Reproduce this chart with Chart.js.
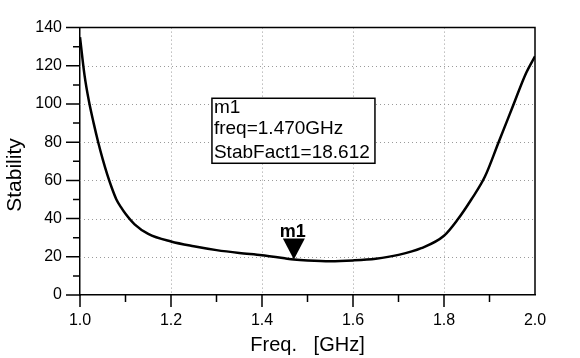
<!DOCTYPE html>
<html>
<head>
<meta charset="UTF-8">
<title>Stability factor vs frequency</title>
<script src="https://cdn.jsdelivr.net/npm/chart.js@4.4.1/dist/chart.umd.min.js"></script>
<style>
    html, body { margin: 0; padding: 0; background: #fff; }
    #wrap { width: 580px; height: 358px; }
</style>
</head>
<body>
<div id="wrap"><canvas id="stabChart"></canvas></div>
<script>
    // values (GHz / stability factor)
    const freqGHz = [1.00, 1.01, 1.02, 1.03, 1.04, 1.05, 1.06, 1.07, 1.08, 1.09, 1.10, 1.12, 1.15,
                     1.20, 1.25, 1.30, 1.35, 1.40, 1.45, 1.47, 1.50, 1.55, 1.60, 1.65, 1.70, 1.75,
                     1.80, 1.83, 1.86, 1.89, 1.92, 1.95, 1.98, 2.00];
    const stabFact = [135, 115, 101, 90, 80, 71, 63, 56, 50, 46, 42.5, 37, 32,
                      28, 25.5, 23.5, 22, 20.8, 19.2, 18.6, 18.1, 17.7, 18.1, 19, 21, 24.5,
                      31, 39.5, 50, 62, 80, 98, 116, 125];

    // marker m1
    const markerName = 'm1';
    const markerFreq = 1.47;
    const markerValue = 18.612;
    const markerLines = ['m1', 'freq=1.470GHz', 'StabFact1=18.612'];
    const markerBoxFreq = 1.29;   // top-left corner of the readout box
    const markerBoxValue = 103;

    // axes
    const xTicks = [1.0, 1.2, 1.4, 1.6, 1.8, 2.0];
    const xMinor = [1.1, 1.3, 1.5, 1.7, 1.9];
    const yTicks = [0, 20, 40, 60, 80, 100, 120, 140];
    const yMinor = [10, 30, 50, 70, 90, 110, 130];
    const xTitle = 'Freq.   [GHz]';
    const yTitle = 'Stability';

    const FONT = '"Liberation Sans", Arial, sans-serif';

    // dotted grid under the curve
    const dottedGrid = {
        id: 'dottedGrid',
        beforeDatasetsDraw(chart) {
            const { ctx, chartArea: a, scales: { x, y } } = chart;
            ctx.save();
            ctx.strokeStyle = '#9a9a9a';
            ctx.lineWidth = 1;
            ctx.setLineDash([1, 3]);
            ctx.beginPath();
            xTicks.slice(1, -1).forEach(v => {
                const px = Math.round(x.getPixelForValue(v)) + 0.5;
                ctx.moveTo(px, a.top); ctx.lineTo(px, a.bottom);
            });
            yTicks.slice(1, -1).forEach(v => {
                const py = Math.round(y.getPixelForValue(v)) + 0.5;
                ctx.moveTo(a.left, py); ctx.lineTo(a.right, py);
            });
            ctx.stroke();
            ctx.restore();
        }
    };

    // frame, tick marks, y title and the marker on top
    const overlay = {
        id: 'overlay',
        afterDatasetsDraw(chart) {
            const { ctx, chartArea: a, scales: { x, y } } = chart;
            ctx.save();
            ctx.strokeStyle = '#000';
            ctx.lineWidth = 1.5;
            ctx.beginPath();
            ctx.moveTo(a.left, a.top); ctx.lineTo(a.right, a.top); ctx.lineTo(a.right, a.bottom);
            xTicks.forEach(v => {
                if (v === 2.0) return;
                const px = x.getPixelForValue(v);
                ctx.moveTo(px, a.bottom); ctx.lineTo(px, a.bottom + 12);
            });
            xMinor.forEach(v => {
                const px = x.getPixelForValue(v);
                ctx.moveTo(px, a.bottom); ctx.lineTo(px, a.bottom + 7);
            });
            yTicks.forEach(v => {
                const py = y.getPixelForValue(v);
                ctx.moveTo(a.left - 14, py); ctx.lineTo(a.left, py);
            });
            yMinor.forEach(v => {
                const py = y.getPixelForValue(v);
                ctx.moveTo(a.left - 7, py); ctx.lineTo(a.left, py);
            });
            ctx.stroke();

            // y axis title (sits a bit below the middle in the original)
            ctx.save();
            ctx.translate(15, 175);
            ctx.rotate(-Math.PI / 2);
            ctx.fillStyle = '#000';
            ctx.font = '21px ' + FONT;
            ctx.textAlign = 'center';
            ctx.textBaseline = 'middle';
            ctx.fillText(yTitle, 0, 0);
            ctx.restore();

            // marker triangle, tip on the curve
            const mx = x.getPixelForValue(markerFreq);
            const my = y.getPixelForValue(markerValue);
            ctx.fillStyle = '#000';
            ctx.beginPath();
            ctx.moveTo(mx, my); ctx.lineTo(mx - 11, my - 21); ctx.lineTo(mx + 11, my - 21);
            ctx.closePath(); ctx.fill();
            ctx.font = 'bold 18px ' + FONT;
            ctx.textAlign = 'center';
            ctx.textBaseline = 'alphabetic';
            ctx.fillText(markerName, mx - 1, my - 22);

            // readout box
            const bx = x.getPixelForValue(markerBoxFreq);
            const by = y.getPixelForValue(markerBoxValue);
            ctx.fillStyle = '#fff';
            ctx.fillRect(bx, by, 163, 65);
            ctx.strokeRect(bx, by, 163, 65);
            ctx.fillStyle = '#000';
            ctx.font = '19px ' + FONT;
            ctx.textAlign = 'left';
            const baselines = [15, 36, 60];
            markerLines.forEach((t, i) => ctx.fillText(t, bx + 2, by + baselines[i]));
            ctx.restore();
        }
    };

    new Chart(document.getElementById('stabChart'), {
        type: 'line',
        data: {
            datasets: [{
                label: 'StabFact1',
                data: freqGHz.map((f, i) => ({ x: f, y: stabFact[i] })),
                borderColor: '#000',
                borderWidth: 2.5,
                pointRadius: 0,
                cubicInterpolationMode: 'monotone',
                fill: false
            }]
        },
        options: {
            responsive: true,
            maintainAspectRatio: false,
            animation: false,
            events: [],
            layout: { padding: { left: 0, top: 19, right: 45, bottom: 0 } },
            plugins: { legend: { display: false }, tooltip: { enabled: false } },
            scales: {
                x: {
                    type: 'linear', min: 1.0, max: 2.0,
                    afterBuildTicks: s => { s.ticks = xTicks.map(v => ({ value: v })); },
                    afterFit: s => { s.height = 63; },
                    border: { display: true, color: '#000', width: 1.5 },
                    grid: { display: false, drawTicks: false },
                    ticks: {
                        padding: 16, color: '#000', maxRotation: 0,
                        font: { family: FONT, size: 16 },
                        callback: v => v.toFixed(1)
                    },
                    title: {
                        display: true, text: xTitle, color: '#000',
                        font: { family: FONT, size: 20 },
                        padding: { top: 0, bottom: 1 }
                    }
                },
                y: {
                    type: 'linear', min: 0, max: 140,
                    afterBuildTicks: s => { s.ticks = yTicks.map(v => ({ value: v })); },
                    afterFit: s => { s.width = 80; },
                    border: { display: true, color: '#000', width: 1.5 },
                    grid: { display: false, drawTicks: false },
                    ticks: {
                        padding: 18, color: '#000',
                        font: { family: FONT, size: 16 }
                    }
                }
            }
        },
        plugins: [dottedGrid, overlay]
    });
</script>
</body>
</html>
